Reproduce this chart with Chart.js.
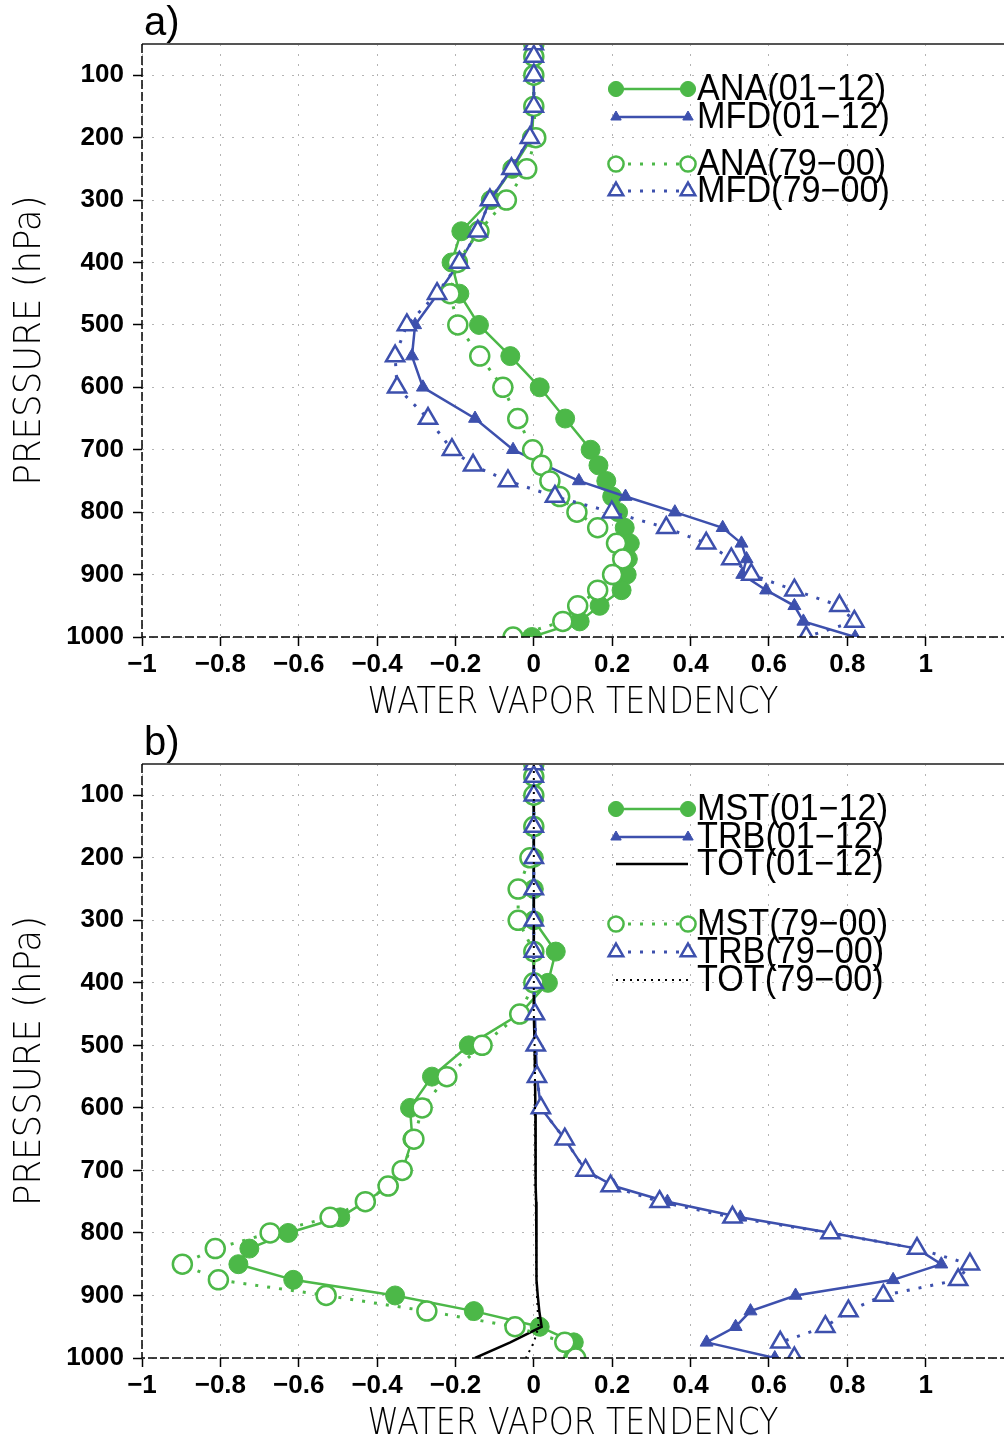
<!DOCTYPE html>
<html>
<head>
<meta charset="utf-8">
<script src="https://cdn.jsdelivr.net/npm/chart.js@4.4.1/dist/chart.umd.min.js"></script>
<style>
  html, body { margin: 0; padding: 0; background: #fff; }
  canvas { display: block; }
</style>
</head>
<body>
<canvas id="panel-a" width="1004" height="720"></canvas>
<canvas id="panel-b" width="1004" height="721"></canvas>
<script>
// pressure levels (hPa), shared by every profile
const LEVELS = [50, 70, 100, 150, 200, 250, 300, 350, 400, 450, 500, 550, 600,
  650, 700, 725, 750, 775, 800, 825, 850, 875, 900, 925, 950, 975, 1000];

const X_TICKS = [-1, -0.8, -0.6, -0.4, -0.2, 0, 0.2, 0.4, 0.6, 0.8, 1];
const Y_TICKS = [100, 200, 300, 400, 500, 600, 700, 800, 900, 1000];
const X_TITLE = 'WATER VAPOR TENDENCY';
const Y_TITLE = 'PRESSURE (hPa)';

// a) analysis increment vs moisture flux divergence
const ANA_0112 = [0, 0, 0, 0, -0.005, -0.055, -0.11, -0.185, -0.21, -0.19, -0.14, -0.06, 0.015,
  0.08, 0.145, 0.165, 0.185, 0.2, 0.215, 0.232, 0.245, 0.24, 0.237, 0.224, 0.168, 0.117, -0.005];
const MFD_0112 = [0, 0, 0, 0, -0.01, -0.057, -0.112, -0.143, -0.19, -0.245, -0.303, -0.311, -0.283,
  -0.15, -0.053, 0.03, 0.115, 0.234, 0.36, 0.482, 0.53, 0.543, 0.532, 0.593, 0.665, 0.688, 0.82];
const ANA_7900 = [0, 0, 0, 0, 0.005, -0.018, -0.07, -0.14, -0.195, -0.214, -0.194, -0.138, -0.079,
  -0.041, -0.003, 0.02, 0.041, 0.066, 0.11, 0.163, 0.211, 0.227, 0.201, 0.163, 0.112, 0.074, -0.053];
const MFD_7900 = [0, 0, 0, 0, -0.01, -0.057, -0.112, -0.143, -0.19, -0.247, -0.324, -0.354, -0.349,
  -0.27, -0.209, -0.155, -0.066, 0.054, 0.199, 0.338, 0.44, 0.504, 0.555, 0.665, 0.78, 0.818, 0.695];

// b) moist physics, turbulence and total physics
const MST_0112 = [0, 0, 0, 0, 0, 0, 0, 0.056, 0.036, -0.036, -0.166, -0.26, -0.316,
  -0.31, -0.335, -0.37, -0.43, -0.494, -0.627, -0.726, -0.754, -0.614, -0.354, -0.153, 0.015, 0.102, 0.1];
const TRB_0112 = [0, 0, 0, 0, 0, 0, 0, 0, 0, 0.003, 0.005, 0.008, 0.018,
  0.079, 0.132, 0.204, 0.341, 0.527, 0.76, 0.978, 1.04, 0.917, 0.668, 0.553, 0.515, 0.441, 0.615];
const TOT_0112 = [0, 0, 0, 0, 0, 0, 0, 0, 0, 0, 0.002, 0.003, 0.004,
  0.004, 0.005, 0.005, 0.006, 0.006, 0.007, 0.007, 0.006, 0.008, 0.01, 0.014, 0.02, -0.06, -0.15];
const MST_7900 = [0, 0, 0, 0, -0.01, -0.04, -0.04, 0, 0, -0.036, -0.132, -0.222, -0.285,
  -0.306, -0.336, -0.372, -0.43, -0.52, -0.673, -0.813, -0.897, -0.805, -0.53, -0.273, -0.048, 0.079, 0.107];
const TRB_7900 = [0, 0, 0, 0, 0, 0, 0, 0, 0, 0.003, 0.005, 0.008, 0.018,
  0.079, 0.132, 0.196, 0.321, 0.507, 0.757, 0.978, 1.113, 1.083, 0.892, 0.803, 0.744, 0.629, 0.665];
const TOT_7900 = [0, 0, 0, 0, 0, 0, 0, 0, 0, 0, 0.002, 0.003, 0.003,
  0.004, 0.004, 0.004, 0.005, 0.005, 0.006, 0.006, 0.006, 0.007, 0.008, 0.01, 0.012, 0, -0.02];

const GREEN = '#4cb848';
const BLUE = '#3d50ad';
const GRID = '#b4b4b4';
const DOTS = [3, 9];

const TICK_FONT = { family: '"Liberation Sans", Arial, sans-serif', size: 26, weight: 'bold' };
const TITLE_FONT = '200 38px "DejaVu Sans", Roboto, sans-serif';
const LEGEND_FONT = '36px "Liberation Sans", Arial, sans-serif';
const LETTER_FONT = '40px "Liberation Sans", Arial, sans-serif';

const STYLE = {
  fullCircle: { borderColor: GREEN, borderWidth: 2.5, pointStyle: 'circle', pointRadius: 9.5,
    pointBackgroundColor: GREEN, pointBorderColor: GREEN, pointBorderWidth: 1 },
  openCircle: { borderColor: GREEN, borderWidth: 3, borderDash: DOTS, pointStyle: 'circle', pointRadius: 9.5,
    pointBackgroundColor: '#fff', pointBorderColor: GREEN, pointBorderWidth: 2.5 },
  fullTri: { borderColor: BLUE, borderWidth: 2.5, pointStyle: 'triangle', pointRadius: 7.5,
    pointBackgroundColor: BLUE, pointBorderColor: BLUE, pointBorderWidth: 1 },
  openTri: { borderColor: BLUE, borderWidth: 3, borderDash: DOTS, pointStyle: 'triangle', pointRadius: 10.5,
    pointBackgroundColor: '#fff', pointBorderColor: BLUE, pointBorderWidth: 2.5 },
  solidBlack: { borderColor: '#000', borderWidth: 2.5, pointRadius: 0 },
  dotBlack: { borderColor: '#000', borderWidth: 2, borderDash: [2, 5], pointRadius: 0 },
};

function series(label, values, style, order) {
  return Object.assign({
    label, order,
    data: values.map((v, i) => ({ x: v, y: LEVELS[i] })),
    tension: 0, fill: false, clip: 0,
  }, style);
}

function fmtX(v) {
  const s = String(Math.round(Math.abs(v) * 10) / 10);
  return v < 0 ? '\u2212' + s : s;
}

function drawText(ctx, text, x, y, font, align, sx) {
  ctx.save();
  ctx.font = font;
  ctx.textAlign = align;
  ctx.textBaseline = 'middle';
  ctx.fillStyle = '#000';
  ctx.translate(x, y);
  ctx.scale(sx, 1);
  ctx.fillText(text, 0, 0);
  ctx.restore();
}

function fitWidth(ctx, text, font, width) {
  ctx.save();
  ctx.font = font;
  const w = ctx.measureText(text).width;
  ctx.restore();
  return width / w;
}

function drawMarker(ctx, ds, x, y, r) {
  if (!ds.pointRadius) return;
  ctx.beginPath();
  if (ds.pointStyle === 'circle') {
    ctx.arc(x, y, r, 0, Math.PI * 2);
  } else {
    for (let k = 0; k < 3; k++) {
      const a = k * 2 * Math.PI / 3;
      ctx.lineTo(x + Math.sin(a) * r, y - Math.cos(a) * r);
    }
    ctx.closePath();
  }
  ctx.fillStyle = ds.pointBackgroundColor;
  ctx.fill();
  ctx.lineWidth = ds.pointBorderWidth;
  ctx.strokeStyle = ds.pointBorderColor;
  ctx.stroke();
}

// frame, panel letter, axis titles and the two-marker legend samples
const panelDecor = {
  id: 'panelDecor',
  afterDraw(chart, _args, opts) {
    const { ctx, chartArea: ca } = chart;
    ctx.save();
    ctx.strokeStyle = '#555';
    ctx.lineWidth = 2;
    ctx.beginPath();
    ctx.moveTo(ca.left, ca.top);
    ctx.lineTo(ca.right, ca.top);
    ctx.stroke();
    ctx.strokeStyle = '#000';
    ctx.lineWidth = 1.5;
    ctx.setLineDash([9, 3]);
    ctx.beginPath();
    ctx.moveTo(ca.left, ca.top);
    ctx.lineTo(ca.left, ca.bottom);
    ctx.lineTo(ca.right, ca.bottom);
    ctx.stroke();
    ctx.setLineDash([]);

    drawText(ctx, opts.letter, ca.left + 2, 24, LETTER_FONT, 'left', 1);

    const cx = (ca.left + ca.right) / 2;
    drawText(ctx, X_TITLE, cx, ca.bottom + 66, TITLE_FONT, 'center', fitWidth(ctx, X_TITLE, TITLE_FONT, 411));
    ctx.save();
    ctx.translate(30, (ca.top + ca.bottom) / 2);
    ctx.rotate(-Math.PI / 2);
    drawText(ctx, Y_TITLE, 0, 0, TITLE_FONT, 'center', fitWidth(ctx, Y_TITLE, TITLE_FONT, 290));
    ctx.restore();

    const x0 = 616, x1 = 688;
    opts.rows.forEach(row => {
      const ds = chart.data.datasets[row.ds];
      ctx.save();
      ctx.strokeStyle = ds.borderColor;
      ctx.lineWidth = ds.borderWidth;
      ctx.setLineDash(ds.borderDash || []);
      ctx.beginPath();
      ctx.moveTo(x0, row.y);
      ctx.lineTo(x1, row.y);
      ctx.stroke();
      ctx.setLineDash([]);
      drawMarker(ctx, ds, x0, row.y, ds.pointRadius * 0.8);
      drawMarker(ctx, ds, x1, row.y, ds.pointRadius * 0.8);
      ctx.restore();
      drawText(ctx, ds.label, 697, row.y + 1, LEGEND_FONT, 'left', 0.95);
    });
    ctx.restore();
  }
};

function axisGrid() {
  return { color: GRID, lineWidth: 1, tickLength: 9, tickColor: '#000', tickWidth: 1.5, tickBorderDash: [] };
}

function buildPanel(id, datasets, letter, rows) {
  return new Chart(document.getElementById(id), {
    type: 'line',
    data: { datasets },
    options: {
      responsive: false,
      animation: false,
      indexAxis: 'y',
      layout: { autoPadding: false, padding: { top: 44, right: 0, bottom: 0, left: 0 } },
      plugins: {
        legend: { display: false },
        tooltip: { enabled: false },
        panelDecor: { letter, rows },
      },
      scales: {
        x: {
          type: 'linear', min: -1, max: 1.2,
          afterBuildTicks: s => { s.ticks = X_TICKS.map(v => ({ value: v })); },
          afterFit: s => { s.height = 83; },
          ticks: { font: TICK_FONT, color: '#000', padding: 3, maxRotation: 0, autoSkip: false, callback: fmtX },
          grid: axisGrid(),
          border: { display: false, dash: [2, 8] },
        },
        y: {
          type: 'linear', min: 50, max: 1000, reverse: true,
          afterBuildTicks: s => { s.ticks = Y_TICKS.map(v => ({ value: v })); },
          afterFit: s => { s.width = 142; },
          ticks: { font: TICK_FONT, color: '#000', padding: 9, autoSkip: false, callback: v => String(v) },
          grid: axisGrid(),
          border: { display: false, dash: [2, 8] },
        },
      },
    },
    plugins: [panelDecor],
  });
}

buildPanel('panel-a', [
  series('ANA(01\u221212)', ANA_0112, STYLE.fullCircle, 3),
  series('MFD(01\u221212)', MFD_0112, STYLE.fullTri, 2),
  series('ANA(79\u221200)', ANA_7900, STYLE.openCircle, 1),
  series('MFD(79\u221200)', MFD_7900, STYLE.openTri, 0),
], 'a)', [
  { ds: 0, y: 89 }, { ds: 1, y: 117 }, { ds: 2, y: 164 }, { ds: 3, y: 191 },
]);

buildPanel('panel-b', [
  series('MST(01\u221212)', MST_0112, STYLE.fullCircle, 5),
  series('TRB(01\u221212)', TRB_0112, STYLE.fullTri, 4),
  series('TOT(01\u221212)', TOT_0112, STYLE.solidBlack, 3),
  series('MST(79\u221200)', MST_7900, STYLE.openCircle, 2),
  series('TRB(79\u221200)', TRB_7900, STYLE.openTri, 1),
  series('TOT(79\u221200)', TOT_7900, STYLE.dotBlack, 0),
], 'b)', [
  { ds: 0, y: 89 }, { ds: 1, y: 117 }, { ds: 2, y: 144 },
  { ds: 3, y: 204 }, { ds: 4, y: 232 }, { ds: 5, y: 260 },
]);
</script>
</body>
</html>
